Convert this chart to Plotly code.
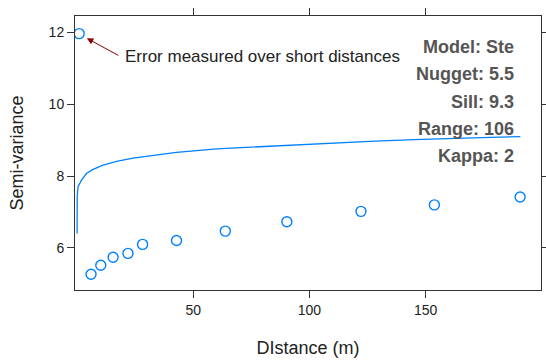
import plotly.graph_objects as go

# Empirical semivariogram points
dist = [0.9, 6.0, 10.2, 15.5, 21.9, 28.2, 42.8, 63.8, 90.3, 122.2, 153.8, 190.7]
gamma = [11.97, 5.27, 5.52, 5.74, 5.85, 6.10, 6.21, 6.47, 6.73, 7.02, 7.20, 7.42]

# Fitted model curve
curve_x = [0.0, 0.05, 0.4, 1.9, 4.1, 6.9, 11.2, 17.0, 24.1, 32.8, 42.8, 60.0, 83.0, 105.0, 126.0, 145.0, 162.0, 178.0, 190.8]
curve_y = [6.40, 7.43, 7.71, 7.89, 8.08, 8.19, 8.31, 8.41, 8.50, 8.58, 8.66, 8.76, 8.84, 8.91, 8.97, 9.02, 9.06, 9.08, 9.10]

stats = ["Model: Ste", "Nugget: 5.5", "Sill: 9.3", "Range: 106", "Kappa: 2"]

x_ticks = [50, 100, 150]
y_ticks = [6, 8, 10, 12]

blue = "#0080ff"
font = "Liberation Sans, Arial, sans-serif"

fig = go.Figure()
fig.add_trace(go.Scatter(x=curve_x, y=curve_y, mode="lines",
                         line=dict(color=blue, width=1.3), hoverinfo="skip"))
fig.add_trace(go.Scatter(x=dist, y=gamma, mode="markers",
                         marker=dict(symbol="circle-open", size=10, color=blue,
                                     line=dict(width=1.4, color=blue))))

axis_common = dict(showline=True, linecolor="#333333", linewidth=1, mirror="ticks",
                   ticks="outside", ticklen=7, tickcolor="#333333", tickwidth=1,
                   showgrid=False, zeroline=False,
                   tickfont=dict(family=font, size=14, color="#222222"))

fig.update_xaxes(range=[-0.9, 199.7], tickvals=x_ticks, **axis_common,
                 title=dict(text="DIstance (m)", font=dict(family=font, size=18, color="#222222"),
                            standoff=24))
fig.update_yaxes(range=[4.83, 12.46], tickvals=y_ticks, **axis_common,
                 title=dict(text="Semi-variance", font=dict(family=font, size=18, color="#222222"),
                            standoff=20))

annotations = []
for i, s in enumerate(stats):
    annotations.append(dict(text="<b>%s</b>" % s, xref="paper", yref="paper",
                            x=0.946, y=(290 - 47 - 27.2 * i) / 274.3,
                            xanchor="right", yanchor="middle", showarrow=False,
                            font=dict(family=font, size=18, color="#555555")))
# arrow
annotations.append(dict(x=4.2, y=11.84, xref="x", yref="y", text="", showarrow=True,
                        ax=33, ay=18, arrowhead=2, arrowsize=1.3, arrowwidth=1,
                        arrowcolor="#8B0000"))
annotations.append(dict(x=(123 - 77.3) / 2.32, y=12 - (56 - 32.3) / 35.75, xref="x", yref="y",
                        text="Error measured over short distances", showarrow=False,
                        xanchor="left", yanchor="middle",
                        font=dict(family=font, size=17, color="#222222")))

fig.update_layout(width=546, height=361, margin=dict(l=75, r=5, t=16, b=71, autoexpand=False),
                  plot_bgcolor="white", paper_bgcolor="white", showlegend=False,
                  annotations=annotations)

fig.write_html("out.html",
               post_script="document.body.style.margin='0';document.body.style.overflow='hidden';")
